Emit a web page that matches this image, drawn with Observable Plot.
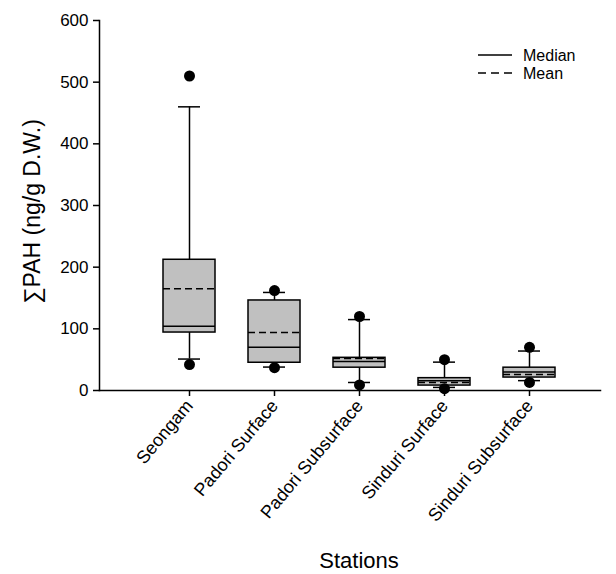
<!DOCTYPE html>
<html>
<head>
<meta charset="utf-8">
<script src="https://cdn.jsdelivr.net/npm/d3@7"></script>
<script src="https://cdn.jsdelivr.net/npm/@observablehq/plot@0.6"></script>
<style>
  body { margin: 0; background: white; }
  #wrap { position: relative; width: 616px; height: 574px; font-family: "Liberation Sans", Arial, sans-serif; }
  #legend { position: absolute; left: 470px; top: 41px; }
</style>
</head>
<body>
<div id="wrap"><div id="chart"></div><div id="legend"></div></div>
<script>
const stations = ["Seongam", "Padori Surface", "Padori Subsurface", "Sinduri Surface", "Sinduri Subsurface"];
const q1 = [94, 45, 37, 8, 21];
const median = [104, 70, 47, 16, 30];
const q3 = [212, 146, 53, 20, 37];
const mean = [165, 94, 52, 13, 26];
const whiskerLow = [51, 38, 13, 5, 16];
const whiskerHigh = [460, 159, 115, 46, 64];
const outlierLow = [42, 37, 9, 3, 13];
const outlierHigh = [510, 162, 120, 50, 70];
const yTicks = [0, 100, 200, 300, 400, 500, 600];
const legendLabels = ["Median", "Mean"];
const legendDash = ["none", "8,5"];
const yLabel = "\u2211PAH (ng/g D.W.)";
const xLabel = "Stations";

const data = stations.map((s, i) => ({
  station: s, q1: q1[i], median: median[i], q3: q3[i], mean: mean[i],
  lo: whiskerLow[i], hi: whiskerHigh[i]
}));
const outliers = stations.flatMap((s, i) => [
  {station: s, v: outlierLow[i]}, {station: s, v: outlierHigh[i]}
]);

const plot = Plot.plot({
  width: 616,
  height: 574,
  marginTop: 20,
  marginBottom: 184,
  marginLeft: 99,
  marginRight: 16,
  style: {fontFamily: "Liberation Sans, Arial, sans-serif", fontSize: "17px", color: "black", background: "white"},
  x: {type: "band", domain: stations, range: [145.4, 571.9], paddingInner: 0.39, paddingOuter: 0.195, align: 0.5},
  y: {domain: [0, 600]},
  marks: [
    Plot.ruleX(data, {x: "station", y1: "q3", y2: "hi", stroke: "black", strokeWidth: 1.5}),
    Plot.ruleX(data, {x: "station", y1: "lo", y2: "q1", stroke: "black", strokeWidth: 1.5}),
    Plot.barY(data, {x: "station", y1: "q1", y2: "q3", fill: "#c0c0c0", stroke: "black", strokeWidth: 1.5}),
    Plot.tickY(data, {x: "station", y: "median", stroke: "black", strokeWidth: 1.5}),
    Plot.tickY(data, {x: "station", y: "mean", stroke: "black", strokeWidth: 1.5, strokeDasharray: "7,4"}),
    Plot.tickY(data, {x: "station", y: "hi", stroke: "black", strokeWidth: 1.5, inset: 15}),
    Plot.tickY(data, {x: "station", y: "lo", stroke: "black", strokeWidth: 1.5, inset: 15}),
    Plot.dot(outliers, {x: "station", y: "v", r: 5.5, fill: "black"}),
    Plot.frame({anchor: "left", stroke: "black", strokeWidth: 1.5}),
    Plot.frame({anchor: "bottom", stroke: "black", strokeWidth: 1.5}),
    Plot.axisY({ticks: yTicks, tickSize: 6, tickPadding: 5, fontSize: 17, label: null, strokeWidth: 1.5}),
    Plot.axisX({tickSize: 6, tickPadding: 6, tickRotate: -50, fontSize: 18, label: null, strokeWidth: 1.5}),
    Plot.text([yLabel], {frameAnchor: "left", textAnchor: "middle", rotate: -90, dx: -67, dy: 6, fontSize: 23}),
    Plot.text([xLabel], {frameAnchor: "bottom", dx: 9, dy: 177, fontSize: 22})
  ]
});
document.getElementById("chart").appendChild(plot);

// legend
const ns = "http://www.w3.org/2000/svg";
const lsvg = document.createElementNS(ns, "svg");
lsvg.setAttribute("width", 130);
lsvg.setAttribute("height", 46);
legendLabels.forEach((lab, i) => {
  const y = 14 + i * 18;
  const ln = document.createElementNS(ns, "line");
  ln.setAttribute("x1", 8); ln.setAttribute("x2", 42);
  ln.setAttribute("y1", y); ln.setAttribute("y2", y);
  ln.setAttribute("stroke", "black"); ln.setAttribute("stroke-width", 1.5);
  if (legendDash[i] !== "none") ln.setAttribute("stroke-dasharray", legendDash[i]);
  lsvg.appendChild(ln);
  const t = document.createElementNS(ns, "text");
  t.setAttribute("x", 53); t.setAttribute("y", y + 5.5);
  t.setAttribute("font-size", 16);
  t.setAttribute("font-family", "Liberation Sans, Arial, sans-serif");
  t.textContent = lab;
  lsvg.appendChild(t);
});
document.getElementById("legend").appendChild(lsvg);
</script>
</body>
</html>
